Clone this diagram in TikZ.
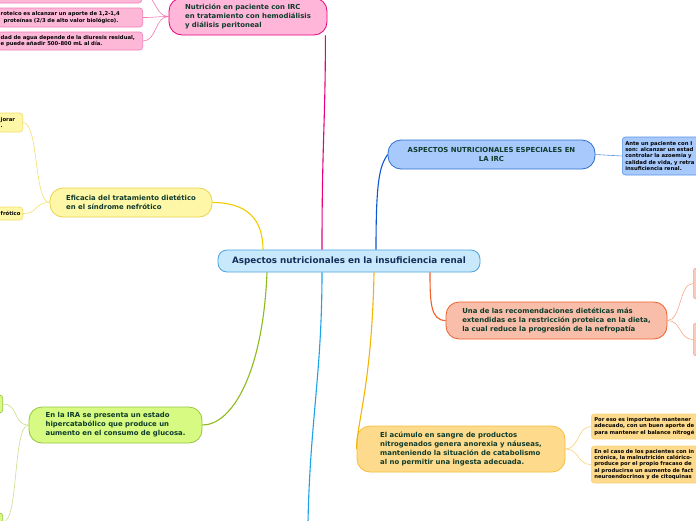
\documentclass[tikz,border=0pt]{standalone}
\usepackage{fontspec}
\setmainfont{DejaVu Sans}
\usepackage{xcolor}
\definecolor{mmtext}{RGB}{14,59,43}
\definecolor{mmnavy}{RGB}{20,48,90}
\definecolor{mainfill}{RGB}{200,233,251}
\definecolor{mainline}{RGB}{75,163,223}
\definecolor{pinkfill}{RGB}{255,182,217}
\definecolor{pinkline}{RGB}{230,0,126}
\definecolor{pinkleaf}{RGB}{253,184,216}
\definecolor{pinkleafline}{RGB}{242,125,184}
\definecolor{yelfill}{RGB}{255,247,168}
\definecolor{yelline}{RGB}{235,210,74}
\definecolor{yellink}{RGB}{242,204,0}
\definecolor{yelleafline}{RGB}{244,223,106}
\definecolor{grnfill}{RGB}{214,250,130}
\definecolor{grnline}{RGB}{151,197,62}
\definecolor{grnlink}{RGB}{140,187,26}
\definecolor{grnleafline}{RGB}{200,224,138}
\definecolor{bluefill}{RGB}{167,201,252}
\definecolor{blueline}{RGB}{47,111,208}
\definecolor{bluelink}{RGB}{10,87,207}
\definecolor{blueleafline}{RGB}{91,147,232}
\definecolor{skylink}{RGB}{26,163,232}
\definecolor{salfill}{RGB}{248,190,169}
\definecolor{salline}{RGB}{240,96,42}
\definecolor{salleaf}{RGB}{251,202,184}
\definecolor{salleafline}{RGB}{248,169,139}
\definecolor{orafill}{RGB}{254,219,140}
\definecolor{oraline}{RGB}{247,190,58}
\definecolor{oralink}{RGB}{245,180,0}
\definecolor{oraleafline}{RGB}{250,210,122}
\tikzset{
    mainbox/.style={draw=mainline, fill=mainfill, line width=0.8pt, rounded corners=9pt,
                    text=mmnavy, font=\bfseries\fontsize{8.8}{10}\selectfont,
                    minimum width=262pt, minimum height=22pt, inner sep=0pt},
    topic/.style={line width=0.8pt, rounded corners=13pt, align=left, text=mmtext,
                  font=\bfseries\fontsize{6.9}{9}\selectfont, inner xsep=6pt, inner ysep=0pt},
    leaf/.style={line width=0.6pt, rounded corners=3pt, align=left, text=black,
                 font=\bfseries\fontsize{5.3}{6.3}\selectfont, inner xsep=3pt, inner ysep=0pt},
    link/.style={line width=1.1pt},
    sublink/.style={line width=0.6pt},
}

\begin{document}
\begin{tikzpicture}[x=1pt, y=-1pt]
    \path[fill=white, use as bounding box] (0,0) rectangle (696,520);
    \clip (0,0) rectangle (696,520);
    % centre
    \node[mainbox] (main) at (349,261) {Aspectos nutricionales en la insuficiencia renal};
    % first level
    \node[topic, fill=pinkfill, draw=pinkline, minimum width=158pt, minimum height=37pt] (nutr) at (248,16.5)
        {Nutrición en paciente con IRC\\en tratamiento con hemodiálisis\\y diálisis peritoneal};
    \node[topic, fill=yelfill, draw=yelline, minimum width=162pt, minimum height=29pt] (efic) at (131,202.5)
        {Eficacia del tratamiento dietético\\en el síndrome nefrótico};
    \node[topic, fill=grnfill, draw=grnline, minimum width=173pt, minimum height=36pt] (ira) at (115.5,425)
        {En la IRA se presenta un estado\\hipercatabólico que produce un\\aumento en el consumo de glucosa.};
    \node[topic, fill=bluefill, draw=blueline, align=center, minimum width=207pt, minimum height=29pt] (espec) at (491.5,154.5)
        {ASPECTOS NUTRICIONALES ESPECIALES EN\\LA IRC};
    \node[topic, fill=salfill, draw=salline, minimum width=221pt, minimum height=37pt] (restr) at (556.5,320.5)
        {Una de las recomendaciones dietéticas más\\extendidas es la restricción proteica en la dieta,\\la cual reduce la progresión de la nefropatía};
    \node[topic, fill=orafill, draw=oraline, minimum width=208pt, minimum height=46pt] (acum) at (461,449)
        {El acúmulo en sangre de productos\\nitrogenados genera anorexia y náuseas,\\manteniendo la situación de catabolismo\\al no permitir una ingesta adecuada.};
    % leaves
    \node[leaf, fill=pinkleaf, draw=pinkleafline, anchor=east, text width=139pt, minimum height=18pt] (pcero) at (142,-6) {};
    \node[leaf, fill=pinkleaf, draw=pinkleafline, anchor=east, text width=139pt, minimum height=19pt] (pprot) at (143,17.5)
        {roteico es alcanzar un aporte de 1,2-1,4\\\hspace*{3pt}proteínas (2/3 de alto valor biológico).};
    \node[leaf, fill=pinkleaf, draw=pinkleafline, anchor=east, text width=139pt, minimum height=18pt] (pagua) at (143,41)
        {dad de agua depende de la diuresis residual,\\e puede añadir 500-800 mL al día.};
    \node[leaf, fill=yelfill, draw=yelleafline, anchor=east, text width=19pt, minimum height=19pt] (ymej) at (23,122.5)
        {jorar\\.};
    \node[leaf, fill=yelfill, draw=yelleafline, anchor=east, text width=19pt, minimum height=13pt] (ynef) at (23,213.5)
        {frótico};
    \node[leaf, fill=grnfill, draw=grnline, anchor=east, text width=30pt, minimum height=18pt] (gone) at (3,404) {};
    \node[leaf, fill=grnfill, draw=grnline, anchor=east, text width=30pt, minimum height=18pt] (gtwo) at (3,522) {};
    \node[leaf, fill=bluefill, draw=blueleafline, anchor=west, text width=95pt, minimum height=38pt] (bante) at (622,156)
        {Ante un paciente con I\\son: alcanzar un estad\\controlar la azoemia y\\calidad de vida, y retra\\insuficiencia renal.};
    \node[leaf, fill=salleaf, draw=salleafline, anchor=west, text width=60pt, minimum height=31pt] (sone) at (693,283.5) {};
    \node[leaf, fill=salleaf, draw=salleafline, anchor=west, text width=60pt, minimum height=33pt] (stwo) at (693,339.5) {};
    \node[leaf, fill=orafill, draw=oraleafline, anchor=west, text width=120pt, minimum height=25pt] (obal) at (591,426.5)
        {Por eso es importante mantener\\adecuado, con un buen aporte de\\para mantener el balance nitrogé};
    \node[leaf, fill=orafill, draw=oraleafline, anchor=west, text width=120pt, minimum height=37pt] (ocron) at (591,464.5)
        {En el caso de los pacientes con in\\crónica, la malnutrición calórico-\\produce por el propio fracaso de\\al producirse un aumento de fact\\neuroendocrinos y de citoquinas};
    % links from the centre
    \coordinate (down) at (308,522);
    \draw[link, pinkline] ([xshift=-27pt]main.north) .. controls +(0,-110) and +(0,90) .. ([xshift=-2pt]nutr.south east);
    \draw[link, yellink] (efic.east) .. controls +(35,0) and +(0,-30) .. ([xshift=-86pt]main.north);
    \draw[link, bluelink] ([xshift=27pt]main.north) .. controls +(0,-70) and +(-8,12) .. (espec.west);
    \draw[link, grnlink] ([xshift=-82pt]main.south) .. controls +(-4,100) and +(30,0) .. (ira.east);
    \draw[link, skylink] ([xshift=-27pt]main.south) .. controls +(0,100) and +(2,-100) .. (down);
    \draw[link, oralink] ([xshift=25pt]main.south) .. controls +(-2,110) and +(0,-25) .. (acum.west);
    \draw[link, salline] ([xshift=81pt]main.south) .. controls +(0,30) and +(-15,0) .. (restr.west);
    % links to the leaves
    \foreach \leaf in {pcero, pprot, pagua}
        \draw[sublink, pinkleafline] (nutr.west) .. controls +(-14,0) and +(14,0) .. (\leaf.east);
    \foreach \leaf in {ymej, ynef}
        \draw[sublink, yelleafline] (efic.west) .. controls +(-16,0) and +(16,0) .. (\leaf.east);
    \foreach \leaf in {gone, gtwo}
        \draw[sublink, grnleafline] (ira.west) .. controls +(-16,0) and +(16,0) .. (\leaf.east);
    \draw[sublink, blueleafline] (espec.east) -- (bante.west);
    \foreach \leaf in {sone, stwo}
        \draw[sublink, salleafline] (restr.east) .. controls +(14,0) and +(-14,0) .. (\leaf.west);
    \foreach \leaf in {obal, ocron}
        \draw[sublink, oraleafline] (acum.east) .. controls +(14,0) and +(-14,0) .. (\leaf.west);
\end{tikzpicture}
\end{document}
